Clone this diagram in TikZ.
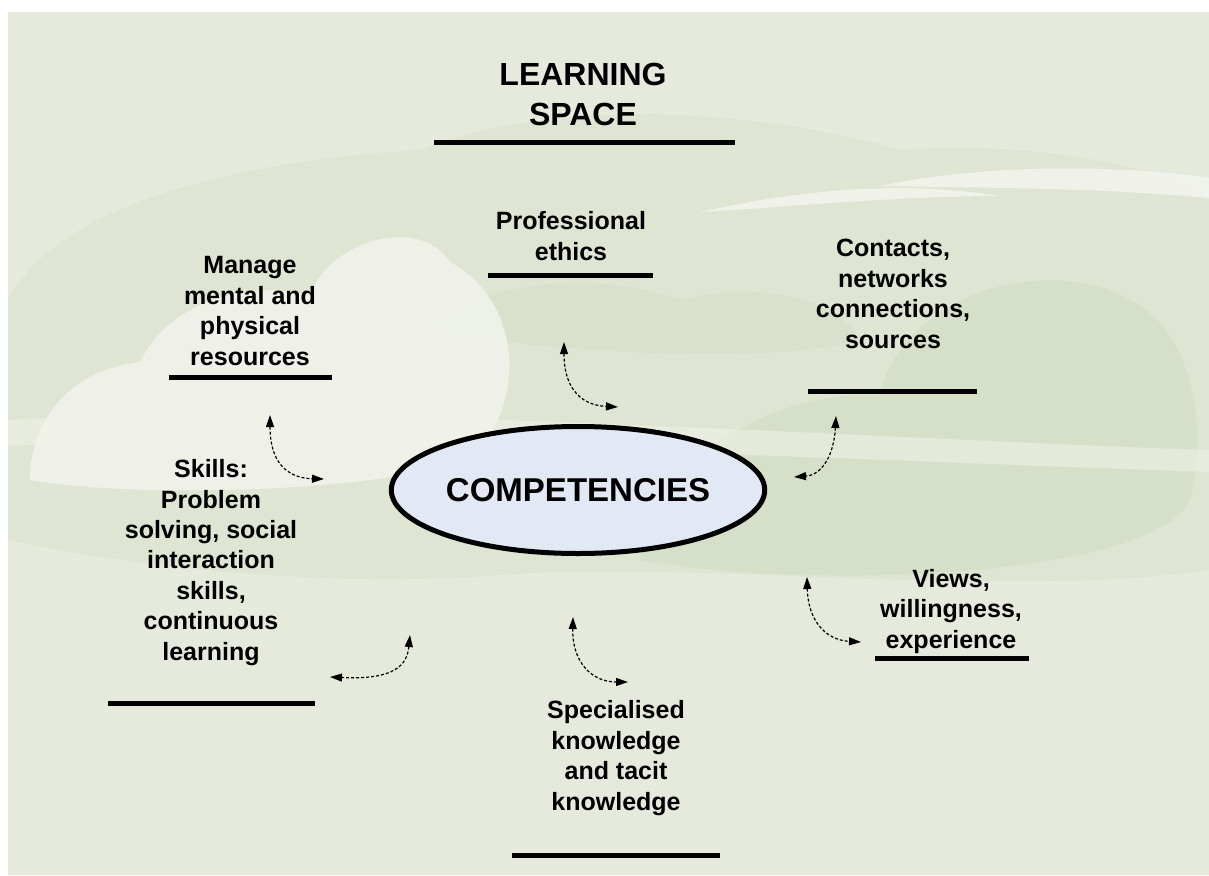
\documentclass[tikz,border=0pt]{standalone}
\usepackage{fontspec}
\setmainfont{Liberation Sans}
\usetikzlibrary{arrows.meta,shapes.geometric}

\definecolor{sky}{RGB}{230,234,221}
\definecolor{cloudmid}{RGB}{222,229,210}
\definecolor{clouddark}{RGB}{214,223,200}
\definecolor{cloudlight}{RGB}{242,244,237}
\definecolor{ovalfill}{RGB}{226,232,244}

\begin{document}
\begin{tikzpicture}[x=1pt,y=-1pt,
  lbl/.style={font=\bfseries\fontsize{25}{30.4}\selectfont, align=center, anchor=base, inner sep=0pt},
  ttl/.style={font=\bfseries\fontsize{32}{40}\selectfont, align=center, anchor=base, inner sep=0pt},
  bar/.style={line width=5pt},
  link/.style={line width=1.2pt, dash pattern=on 3pt off 2pt,
    {Triangle[length=12pt,width=8pt]}-{Triangle[length=12pt,width=8pt]}},
]
\useasboundingbox (0,0) rectangle (1209,875);
\fill[white] (0,0) rectangle (1209,875);
\fill[sky] (8,12) rectangle (1209,875);

% cloud bank across the middle
\fill[cloudmid] (8,300) .. controls (60,200) and (250,160) .. (420,150)
  .. controls (560,95) and (760,110) .. (900,150)
  .. controls (1050,140) and (1170,170) .. (1209,200) -- (1209,570)
  .. controls (1000,600) and (700,560) .. (500,575)
  .. controls (300,590) and (100,560) .. (8,540) -- cycle;
% deeper green cloud on the right
\fill[clouddark] (640,560) .. controls (650,470) and (760,390) .. (880,395)
  .. controls (900,300) and (1040,250) .. (1130,300)
  .. controls (1190,330) and (1209,420) .. (1190,500)
  .. controls (1150,580) and (800,590) .. cycle;
\fill[clouddark, opacity=0.6] (420,330) .. controls (480,280) and (600,270) .. (680,300)
  .. controls (760,280) and (840,300) .. (860,340)
  .. controls (800,360) and (600,360) .. cycle;
% bright cloud on the left
\fill[cloudlight, opacity=0.85] (30,480) .. controls (30,420) and (70,370) .. (140,362)
  .. controls (170,300) and (250,280) .. (310,295)
  .. controls (330,240) and (420,215) .. (450,262)
  .. controls (520,300) and (530,400) .. (470,460)
  .. controls (380,490) and (150,500) .. cycle;
% light streaks
\fill[cloudlight, opacity=0.9] (700,212) .. controls (800,190) and (900,180) .. (1000,196)
  .. controls (900,196) and (800,206) .. cycle;
\fill[cloudlight, opacity=0.9] (880,186) .. controls (1000,160) and (1150,168) .. (1209,178)
  -- (1209,198) .. controls (1100,188) and (1000,188) .. cycle;
\fill[cloudlight, opacity=0.5] (8,420) .. controls (300,400) and (900,440) .. (1209,450)
  -- (1209,472) .. controls (900,462) and (300,432) .. (8,446) -- cycle;

% central oval
\node[ellipse, draw, line width=5pt, fill=ovalfill, inner sep=0pt,
  minimum width=312, minimum height=127,
  font=\bfseries\fontsize{33}{40}\selectfont] (comp) at (578,490) {COMPETENCIES};

% headings and labels (anchored on the baseline of their last line)
\node[ttl] (space) at (583,125) {LEARNING\\SPACE};
\node[lbl] (ethics) at (571,260) {Professional\\ethics};
\node[lbl] (manage) at (250,365) {Manage\\mental and\\physical\\resources};
\node[lbl] (contacts) at (893,348) {Contacts,\\networks\\connections,\\sources};
\node[lbl] (skills) at (211,660) {Skills:\\Problem\\solving, social\\interaction\\skills,\\continuous\\learning};
\node[lbl] (views) at (951,648) {Views,\\willingness,\\experience};
\node[lbl] (special) at (616,810) {Specialised\\knowledge\\and tacit\\knowledge};

% rules under the labels
\draw[bar] (434,142) -- (735,142);
\draw[bar] (488,275) -- (653,275);
\draw[bar] (169,377) -- (332,377);
\draw[bar] (808,391) -- (977,391);
\draw[bar] (108,703) -- (315,703);
\draw[bar] (875,658) -- (1029,658);
\draw[bar] (512,855) -- (720,855);

% curved two-way links around the oval
\coordinate (m1) at (270,415); \coordinate (m2) at (324,479);
\coordinate (p1) at (564,342); \coordinate (p2) at (618,407);
\coordinate (c1) at (836,416); \coordinate (c2) at (794,477);
\coordinate (v1) at (807,577); \coordinate (v2) at (861,642);
\coordinate (s1) at (410,635); \coordinate (s2) at (330,677);
\coordinate (k1) at (573,617); \coordinate (k2) at (628,682);

\draw[link] (m1) .. controls (270,460) and (285,478) .. (m2);
\draw[link] (p1) .. controls (564,385) and (578,405) .. (p2);
\draw[link] (c1) .. controls (834,455) and (822,475) .. (c2);
\draw[link] (v1) .. controls (808,620) and (825,640) .. (v2);
\draw[link] (s1) .. controls (407,665) and (395,680) .. (s2);
\draw[link] (k1) .. controls (572,660) and (590,682) .. (k2);
\end{tikzpicture}
\end{document}
